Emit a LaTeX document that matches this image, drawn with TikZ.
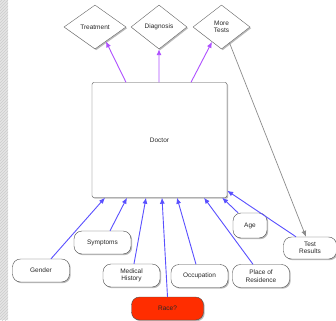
\documentclass[tikz,border=0pt]{standalone}
\usepackage{fontspec}
\setmainfont{Liberation Sans}
\usetikzlibrary{shapes.geometric,arrows.meta,shadows,patterns,calc}
\definecolor{txt}{RGB}{40,40,40}
\definecolor{inarrow}{RGB}{90,80,255}
\definecolor{outarrow}{RGB}{175,80,255}
\definecolor{racered}{RGB}{255,45,0}
\begin{document}
\begin{tikzpicture}[x=1pt,y=-1pt,
  every node/.style={font=\fontsize{6.5}{7.5}\selectfont, text=txt, align=center},
  shd/.style={drop shadow={shadow xshift=1.2pt,shadow yshift=-1.2pt,opacity=0.45,fill=black!60}},
  dia/.style={diamond, draw=black!60, fill=white, inner sep=0pt, minimum width=62pt, minimum height=44pt, shd},
  pill/.style={draw=black!70, fill=white, rounded corners=8pt, inner sep=0pt, minimum width=57pt, minimum height=23pt, shd},
  inar/.style={draw=inarrow, line width=0.9pt, -{Latex[length=6pt,width=5pt]}},
  outar/.style={draw=outarrow, line width=0.9pt, -{Latex[length=6pt,width=5pt]}},
  grar/.style={draw=black!45, line width=0.7pt, -{Latex[length=6pt,width=5pt]}}
]
\useasboundingbox (0,0) rectangle (336,320);
\fill[white] (0,0) rectangle (336,320);
\fill[black!10] (0,0) rectangle (8,320);
\fill[pattern=north east lines, pattern color=black!20] (0,0) rectangle (8,320);

\node[draw=black!70, fill=white, rounded corners=2pt, minimum width=135pt, minimum height=115pt, shd] (doc) at (159.5,140) {Doctor};

\node[dia] (treat) at (95,27) {Treatment};
\node[dia, minimum width=56pt] (diag) at (159,27) {Diagnosis};
\node[dia, minimum width=57pt] (more) at (221.5,27) {More\\Tests};

\node[pill] (gender) at (41,270.5) {Gender};
\node[pill] (sympt) at (102.5,242.5) {Symptoms};
\node[pill] (medh) at (131.5,275.5) {Medical\\History};
\node[pill] (occ) at (199.5,276) {Occupation};
\node[pill] (place) at (261,276) {Place of\\Residence};
\node[pill, minimum width=34pt, minimum height=25pt] (age) at (250,225.5) {Age};
\node[pill, minimum width=53pt, minimum height=22pt] (test) at (310,248) {Test\\Results};
\node[pill, fill=racered, minimum width=72pt, minimum height=23pt] (race) at (167.5,308.5) {Race?};

\draw[outar] ([xshift=-33.5pt]doc.north) -- ($(treat.south)!0.35!(treat.east)$);
\draw[outar] ([xshift=-0.5pt]doc.north) -- ([xshift=0.01pt]diag.south);
\draw[outar] ([xshift=31.5pt]doc.north) -- ($(more.south)!0.33!(more.west)$);

\draw[grar] ($(more.south)!0.28!(more.east)$) -- ([xshift=-4pt]test.north);

\draw[inar] ([xshift=10pt]gender.north) -- ([xshift=-54.5pt]doc.south);
\draw[inar] ([xshift=7.5pt]sympt.north) -- ([xshift=-32.5pt]doc.south);
\draw[inar] ([xshift=2.5pt]medh.north) -- ([xshift=-13.5pt]doc.south);
\draw[inar] (race.north) -- ([xshift=2.5pt]doc.south);
\draw[inar] ([xshift=-3.5pt]occ.north) -- ([xshift=17.5pt]doc.south);
\draw[inar] ([xshift=-8pt]place.north) -- ([xshift=44.5pt]doc.south);
\draw[inar] ([xshift=-12pt]age.north) -- ([xshift=-5pt]doc.south east);
\draw[inar] ([xshift=-14pt]test.north) -- ([yshift=7pt]doc.south east);
\end{tikzpicture}
\end{document}
